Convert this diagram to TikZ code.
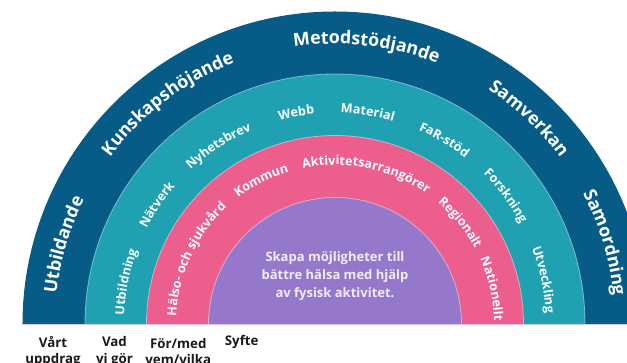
\documentclass[tikz,border=0pt]{standalone}
\usepackage{fontspec}
\setmainfont{Open Sans}
\usetikzlibrary{decorations.text}
\definecolor{bandDark}{RGB}{6,92,135}
\definecolor{bandTeal}{RGB}{31,161,178}
\definecolor{bandPink}{RGB}{236,94,140}
\definecolor{bandPurple}{RGB}{149,119,204}
\definecolor{coreText}{RGB}{242,236,255}
\definecolor{labelInk}{RGB}{25,25,25}
\newcommand{\outerFont}{\bfseries\fontsize{17.8}{20}\selectfont}
\newcommand{\innerFont}{\bfseries\fontsize{12.6}{15}\selectfont}
\newcommand{\bandText}[4]{%
  \pgfmathsetmacro{\bandSA}{#2+75}%
  \pgfmathsetmacro{\bandEA}{#2-75}%
  \path[decorate,decoration={text along path,text align=center,text color=white,text={|#3|#4}}]
    (\bandSA:#1pt) arc[start angle=\bandSA,end angle=\bandEA,radius=#1pt];%
}
\begin{document}
\begin{tikzpicture}[x=1pt,y=1pt,
  sep/.style={draw=white,draw opacity=0.45,line width=0.8pt},
  bottomlabel/.style={font=\bfseries\fontsize{13.3}{16.3}\selectfont,text=labelInk,align=center,inner sep=0pt},
  coretext/.style={font=\bfseries\fontsize{13}{18.3}\selectfont,text=coreText,align=center,inner sep=0pt}]
\useasboundingbox (-335,-39) rectangle (292,324);
\begin{scope}
\clip (-335,-39) rectangle (292,324);
\fill[bandDark] (-312.5,0) arc[start angle=180,end angle=0,radius=312.5] -- cycle;
\fill[bandTeal] (-250,0) arc[start angle=180,end angle=0,radius=250] -- cycle;
\draw[sep] (-250,0) arc[start angle=180,end angle=0,radius=250];
\fill[bandPink] (-188.5,0) arc[start angle=180,end angle=0,radius=188.5] -- cycle;
\draw[sep] (-188.5,0) arc[start angle=180,end angle=0,radius=188.5];
\fill[bandPurple] (-126.5,0) arc[start angle=180,end angle=0,radius=126.5] -- cycle;
\draw[sep] (-126.5,0) arc[start angle=180,end angle=0,radius=126.5];
\draw[draw=bandPurple!40!white,line width=0.8pt] (-312.5,0) -- (292,0);
\end{scope}
% outer band
\bandText{280}{163.7}{\outerFont}{Utbildande}
\bandText{280}{127.2}{\outerFont}{Kunskapshöjande}
\bandText{280}{83.5}{\outerFont}{Metodstödjande}
\bandText{280}{46.6}{\outerFont}{Samverkan}
\bandText{280}{16.8}{\outerFont}{Samordning}
% teal band
\bandText{211}{168.6}{\innerFont}{Utbildning}
\bandText{211}{146.2}{\innerFont}{Nätverk}
\bandText{211}{123.2}{\innerFont}{Nyhetsbrev}
\bandText{211}{100.4}{\innerFont}{Webb}
\bandText{211}{81.2}{\innerFont}{Material}
\bandText{211}{59.3}{\innerFont}{FaR-stöd}
\bandText{211}{36.9}{\innerFont}{Forskning}
\bandText{211}{12}{\innerFont}{Utveckling}
% pink band
\bandText{159}{155}{\innerFont}{Hälso- och sjukvård}
\bandText{159}{117.2}{\innerFont}{Kommun}
\bandText{159}{78.2}{\innerFont}{Aktivitetsarrangörer}
\bandText{159}{39}{\innerFont}{Regionalt}
\bandText{159}{12.7}{\innerFont}{Nationellt}
% core
\node[coretext] (core) at (0,48) {Skapa möjligheter till\\bättre hälsa med hjälp\\av fysisk aktivitet.};
% bottom labels
\node[bottomlabel] (uppdrag) at (-282,-27.5) {Vårt\\uppdrag};
\node[bottomlabel] (vigor) at (-220.5,-27.5) {Vad\\vi gör};
\node[bottomlabel] (forvem) at (-156.7,-27.5) {För/med\\vem/vilka};
\node[bottomlabel,anchor=base] (syfte) at (-93.3,-21.5) {Syfte};
\end{tikzpicture}
\end{document}
